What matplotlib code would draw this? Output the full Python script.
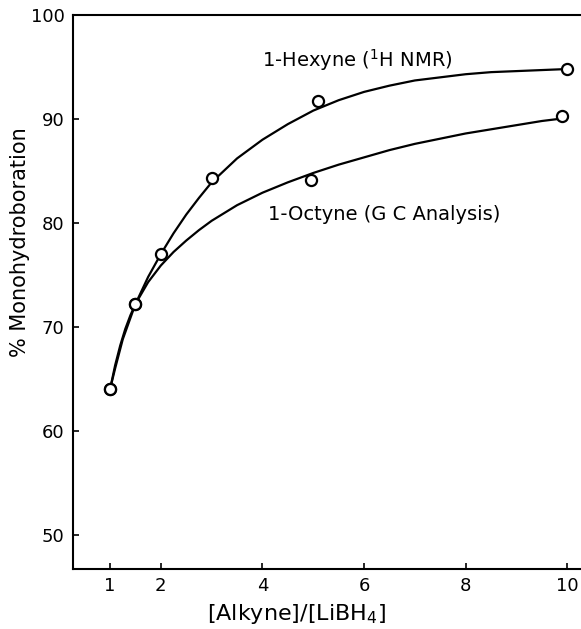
import matplotlib
matplotlib.use("Agg")
import matplotlib.pyplot as plt

# measured points
hexyne_x = [1, 1.5, 2, 3, 5.1, 10]
hexyne_y = [64.0, 72.2, 77.0, 84.3, 91.7, 94.8]
octyne_x = [1, 1.5, 4.95, 9.9]
octyne_y = [64.0, 72.2, 84.1, 90.3]

# hand-drawn fit curves
hex_curve_x = [1.0, 1.1, 1.25, 1.5, 1.75, 2.0, 2.25, 2.5, 2.75, 3.0, 3.5, 4.0, 4.5,
               5.0, 5.5, 6.0, 6.5, 7.0, 7.5, 8.0, 8.5, 9.0, 9.5, 10.0]
hex_curve_y = [64.0, 66.0, 68.8, 72.2, 74.8, 77.0, 79.0, 80.8, 82.4, 83.9, 86.2, 88.0, 89.5,
               90.8, 91.8, 92.6, 93.2, 93.7, 94.0, 94.3, 94.5, 94.6, 94.7, 94.8]
oct_curve_x = [1.0, 1.1, 1.2, 1.3, 1.4, 1.5, 1.75, 2.0, 2.25, 2.5, 2.75, 3.0, 3.5, 4.0, 4.5,
               5.0, 5.5, 6.0, 6.5, 7.0, 7.5, 8.0, 8.5, 9.0, 9.5, 10.0]
oct_curve_y = [64.0, 66.3, 68.2, 69.8, 71.1, 72.2, 74.3, 75.9, 77.2, 78.3, 79.3, 80.2, 81.7, 82.9, 83.9,
               84.8, 85.6, 86.3, 87.0, 87.6, 88.1, 88.6, 89.0, 89.4, 89.8, 90.1]

x_ticks = [1, 2, 4, 6, 8, 10]
y_ticks = [50, 60, 70, 80, 90, 100]

fig = plt.figure(figsize=(5.81, 6.29), dpi=100)
ax = fig.add_axes([0.1256, 0.0954, 0.8744, 0.8808])

ax.plot(hex_curve_x, hex_curve_y, color='black', lw=1.6)
ax.plot(oct_curve_x, oct_curve_y, color='black', lw=1.6)
ax.plot(hexyne_x, hexyne_y, 'o', ms=8, mfc='white', mec='black', mew=1.6)
ax.plot(octyne_x, octyne_y, 'o', ms=8, mfc='white', mec='black', mew=1.6)

ax.set_xlim(0.27, 10.27)
ax.set_ylim(46.7, 100)
ax.set_xticks(x_ticks)
ax.set_yticks(y_ticks)
ax.tick_params(direction='in', length=4, width=1.2, labelsize=13, pad=6)

for s in ['left', 'bottom', 'top']:
    ax.spines[s].set_linewidth(1.5)
ax.spines['right'].set_visible(False)

ax.text(4.0, 95.7, '1-Hexyne ($^1$H NMR)', fontsize=14, va='center')
ax.text(4.1, 80.8, '1-Octyne (G C Analysis)', fontsize=14, va='center')

ax.set_ylabel('% Monohydroboration', fontsize=15)
ax.yaxis.set_label_coords(-0.085, 0.59)
ax.set_xlabel('[Alkyne]/[LiBH$_4$]', fontsize=16)
ax.xaxis.set_label_coords(0.44, -0.06)

fig.savefig('out.png', dpi=100)
